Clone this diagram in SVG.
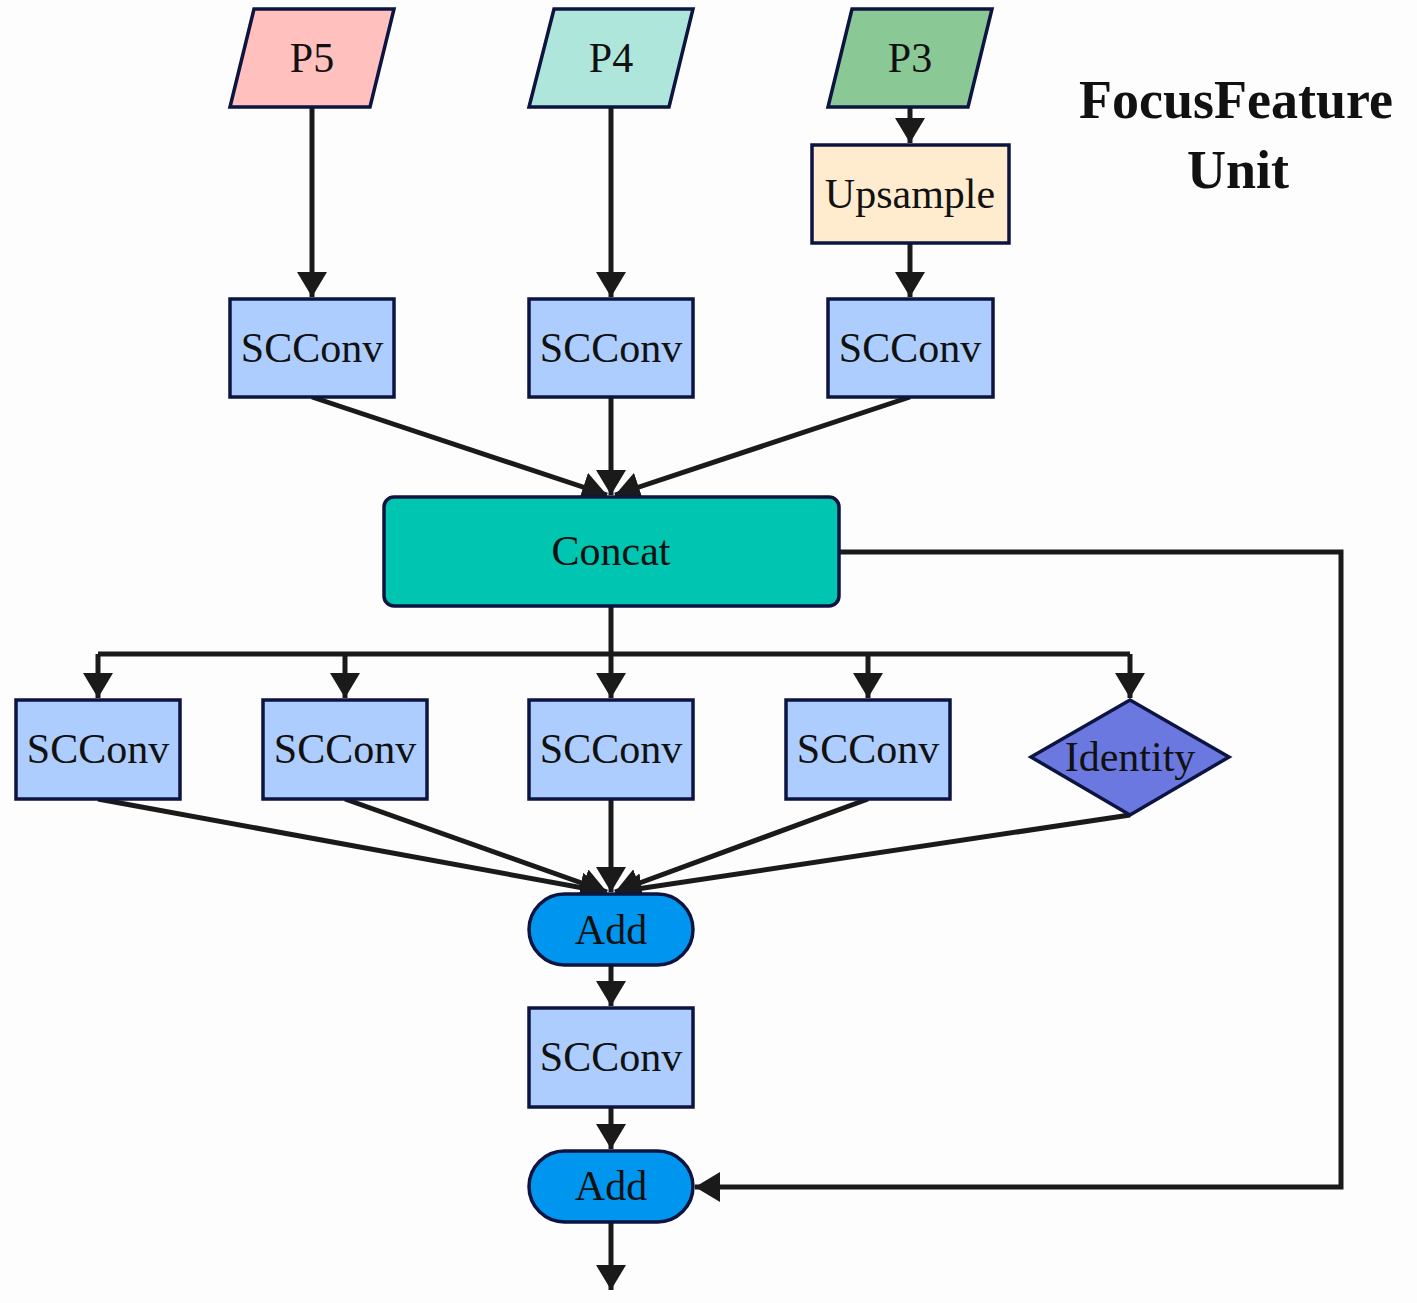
<svg xmlns="http://www.w3.org/2000/svg" width="1417" height="1303" viewBox="0 0 1417 1303">
<defs>
<marker id="ah" markerWidth="6" markerHeight="6" refX="5" refY="3" orient="auto" markerUnits="strokeWidth"><path d="M0,0 L5,3 L0,6 Z" fill="#1a1a1a"/></marker>
<style>
.n{stroke:#0d1440;stroke-width:3.5}
.c{fill:#ADCDFE}
.t{font-family:"Liberation Serif",serif;font-size:42px;fill:#111;text-anchor:middle;dominant-baseline:central}
.e{stroke:#1a1a1a;stroke-width:5;fill:none;marker-end:url(#ah)}
.l{stroke:#1a1a1a;stroke-width:5;fill:none}
</style>
</defs>
<rect width="1417" height="1303" fill="#fdfdfd"/>
<g id="connectors">
<path class="e" d="M312,107 V297"/>
<path class="e" d="M611,107 V297"/>
<path class="e" d="M910,107 V143"/>
<path class="e" d="M910,243 V297"/>
<path class="e" d="M312,397 L607,495"/>
<path class="e" d="M611,397 V495"/>
<path class="e" d="M910,397 L615,495"/>
<path class="l" d="M611,606 V654 M98,654 H1130"/>
<path class="e" d="M98,654 V698"/>
<path class="e" d="M345,654 V698"/>
<path class="e" d="M611,654 V698"/>
<path class="e" d="M868,654 V698"/>
<path class="e" d="M1130,654 V698"/>
<path class="e" d="M98,799 L605,892"/>
<path class="e" d="M345,799 L607,892"/>
<path class="e" d="M611,799 V892"/>
<path class="e" d="M868,799 L615,892"/>
<path class="e" d="M1130,815 L617,892"/>
<path class="e" d="M611,965 V1006"/>
<path class="e" d="M611,1107 V1149"/>
<path class="e" d="M611,1222 V1290"/>
<path class="e" d="M839,552 H1341 V1187 H695"/>
</g>
<g id="p5"><polygon class="n" points="254,9 394,9 370,107 230,107" fill="#FFC0BE"/><text class="t" x="312" y="58">P5</text></g>
<g id="p4"><polygon class="n" points="554,9 693,9 669,107 529,107" fill="#AEE6DC"/><text class="t" x="611" y="58">P4</text></g>
<g id="p3"><polygon class="n" points="852,9 992,9 968,107 828,107" fill="#8AC896"/><text class="t" x="910" y="58">P3</text></g>
<g id="upsample"><rect class="n" x="812" y="145" width="197" height="98" fill="#FFEBCD"/><text class="t" x="910" y="194">Upsample</text></g>
<g id="sc1"><rect class="n c" x="230" y="299" width="164" height="98"/><text class="t" x="312" y="348">SCConv</text></g>
<g id="sc2"><rect class="n c" x="529" y="299" width="164" height="98"/><text class="t" x="611" y="348">SCConv</text></g>
<g id="sc3"><rect class="n c" x="828" y="299" width="165" height="98"/><text class="t" x="910" y="348">SCConv</text></g>
<g id="concat"><rect class="n" x="384" y="497" width="455" height="109" rx="10" fill="#00C5B0"/><text class="t" x="611" y="551">Concat</text></g>
<g id="sc4"><rect class="n c" x="16" y="700" width="164" height="99"/><text class="t" x="98" y="749">SCConv</text></g>
<g id="sc5"><rect class="n c" x="263" y="700" width="164" height="99"/><text class="t" x="345" y="749">SCConv</text></g>
<g id="sc6"><rect class="n c" x="529" y="700" width="164" height="99"/><text class="t" x="611" y="749">SCConv</text></g>
<g id="sc7"><rect class="n c" x="786" y="700" width="164" height="99"/><text class="t" x="868" y="749">SCConv</text></g>
<g id="identity"><polygon class="n" points="1130,700 1229,757 1130,815 1031,757" fill="#6B78E0"/><text class="t" x="1130" y="757">Identity</text></g>
<g id="add1"><rect class="n" x="529" y="894" width="164" height="71" rx="35.5" fill="#0096F0"/><text class="t" x="611" y="930">Add</text></g>
<g id="sc8"><rect class="n c" x="529" y="1008" width="164" height="99"/><text class="t" x="611" y="1057">SCConv</text></g>
<g id="add2"><rect class="n" x="529" y="1151" width="164" height="71" rx="35.5" fill="#0096F0"/><text class="t" x="611" y="1186">Add</text></g>
<g id="title" font-family="Liberation Serif,serif" font-weight="bold" font-size="54" fill="#111" text-anchor="middle"><text x="1236" y="118">FocusFeature</text><text x="1238" y="188">Unit</text></g>
</svg>
